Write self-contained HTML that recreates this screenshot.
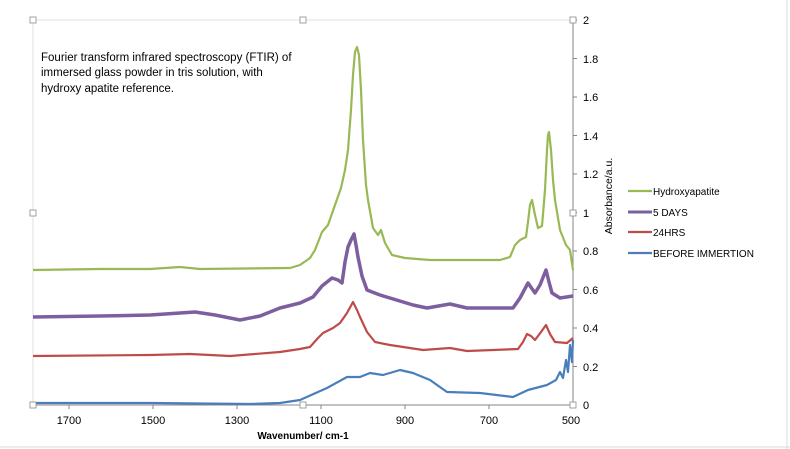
<!DOCTYPE html>
<html><head><meta charset="utf-8"><style>
body{margin:0;background:#fff;}
svg{display:block;font-family:"Liberation Sans",sans-serif;}
</style></head><body>
<svg width="790" height="449" viewBox="0 0 790 449">
<rect x="0" y="0" width="790" height="449" fill="#fff"/>
<line x1="787" y1="0" x2="787" y2="449" stroke="#d9d9d9"/>
<line x1="0" y1="447" x2="790" y2="447" stroke="#d9d9d9"/>
<rect x="33" y="20" width="540" height="385" fill="none" stroke="#d9d9d9" stroke-width="0.8"/>
<line x1="573" y1="20" x2="573" y2="405" stroke="#868686"/>
<line x1="33" y1="405" x2="573" y2="405" stroke="#868686"/>
<g stroke="#868686">
<line x1="573" y1="20" x2="577" y2="20"/><line x1="573" y1="58.5" x2="577" y2="58.5"/><line x1="573" y1="97" x2="577" y2="97"/><line x1="573" y1="135.5" x2="577" y2="135.5"/><line x1="573" y1="174" x2="577" y2="174"/><line x1="573" y1="212.5" x2="577" y2="212.5"/><line x1="573" y1="251" x2="577" y2="251"/><line x1="573" y1="289.5" x2="577" y2="289.5"/><line x1="573" y1="328" x2="577" y2="328"/><line x1="573" y1="366.5" x2="577" y2="366.5"/>
<line x1="69" y1="405" x2="69" y2="409"/><line x1="153" y1="405" x2="153" y2="409"/><line x1="237" y1="405" x2="237" y2="409"/><line x1="321" y1="405" x2="321" y2="409"/><line x1="405" y1="405" x2="405" y2="409"/><line x1="489" y1="405" x2="489" y2="409"/>
</g>
<g font-size="11" fill="#000">
<text x="583" y="24">2</text><text x="583" y="63">1.8</text><text x="583" y="101">1.6</text><text x="583" y="140">1.4</text><text x="583" y="178">1.2</text><text x="583" y="217">1</text><text x="583" y="255">0.8</text><text x="583" y="294">0.6</text><text x="583" y="332">0.4</text><text x="583" y="371">0.2</text><text x="583" y="409">0</text>
<g text-anchor="middle"><text x="69" y="424">1700</text><text x="153" y="424">1500</text><text x="237" y="424">1300</text><text x="321" y="424">1100</text><text x="405" y="424">900</text><text x="489" y="424">700</text><text x="571" y="424">500</text></g>
</g>
<text x="303" y="439" font-size="10" font-weight="bold" text-anchor="middle">Wavenumber/ cm-1</text>
<text transform="translate(612,196) rotate(-90)" font-size="10.5" text-anchor="middle">Absorbance/a.u.</text>
<g font-size="11.5" fill="#000">
<text x="41" y="61">Fourier transform infrared spectroscopy (FTIR) of</text>
<text x="41" y="76">immersed glass powder in tris solution, with</text>
<text x="41" y="92">hydroxy apatite reference.</text>
</g>
<g fill="none" stroke-linejoin="round">
<polyline stroke="#4a7ebb" stroke-width="2.2" points="33,403 150,403 250,404 280,403 300,400 327,388 347,377 360,377 370,373 383,375 400,370 413,373 430,380 447,392 480,393 513,397 528,390 547,385 556,380 560,372 563,378 566,360 568,372 570,345 572,362 573,340"/>
<polyline stroke="#be4b48" stroke-width="2.2" points="33,356 150,355 190,354 230,356 280,352 300,349 310,347 318,338 323,333 333,328 340,323 347,313 353,302 357,310 360,317 367,332 375,342 390,345 423,350 450,348 467,351 518,349 523,342 527,334 531,336 535,340 541,332 546,325 550,334 555,342 567,343 573,338"/>
<polyline stroke="#7d5fa0" stroke-width="3.5" points="33,317 100,316 150,315 195,312 215,315 240,320 260,316 280,308 300,303 313,297 322,286 332,278 338,280 342,283 345,262 348,247 351,240 354,234 356,245 358,257 362,276 367,290 380,295 413,305 427,308 450,304 467,308 513,308 520,298 528,283 535,293 540,285 546,270 549,282 552,293 560,298 573,296"/>
<polyline stroke="#98b954" stroke-width="2.2" points="33,270 100,269 150,269 180,267 200,269 290,268 300,265 310,258 315,250 322,232 328,225 335,205 341,188 345,170 348,150 351,110 353,75 355,52 357,47 359,55 361,90 363,140 366,185 368,200 373,228 378,235 381,230 385,243 392,255 405,258 430,260 500,260 510,257 515,245 520,240 526,237 528,222 530,205 532,200 535,215 538,228 542,226 545,190 547,150 548,135 549,132 551,150 553,180 555,200 560,230 566,245 570,250 573,270"/>
</g>
<g stroke-width="2.2">
<line x1="628" y1="191" x2="652" y2="191" stroke="#98b954"/>
<line x1="628" y1="212" x2="652" y2="212" stroke="#7d5fa0" stroke-width="3"/>
<line x1="628" y1="232" x2="652" y2="232" stroke="#be4b48"/>
<line x1="628" y1="253" x2="652" y2="253" stroke="#4a7ebb"/>
</g>
<g font-size="10" fill="#000">
<text x="653" y="195">Hydroxyapatite</text>
<text x="653" y="216">5 DAYS</text>
<text x="653" y="236">24HRS</text>
<text x="653" y="257">BEFORE IMMERTION</text>
</g>
<g fill="#fff" stroke="#8c8c8c" stroke-width="0.8">
<rect x="30" y="17" width="6" height="6"/><rect x="570" y="17" width="6" height="6"/>
<rect x="30" y="210" width="6" height="6"/><rect x="570" y="210" width="6" height="6"/>
<rect x="30" y="402" width="6" height="6"/><rect x="570" y="402" width="6" height="6"/>
<rect x="300" y="17" width="6" height="6"/><rect x="300" y="402" width="6" height="6"/>
</g>
</svg>
</body></html>
